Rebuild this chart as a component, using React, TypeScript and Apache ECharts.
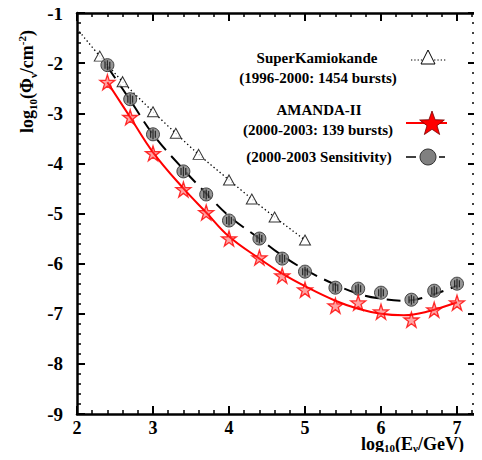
import React, { useEffect, useRef } from "react";
import * as echarts from "echarts";

// SuperKamiokande limits (triangles) and dotted guide line
const skX = [2.3, 2.6, 3.0, 3.3, 3.6, 4.0, 4.3, 4.6, 5.0];
const skY = [-1.86, -2.37, -2.97, -3.4, -3.82, -4.33, -4.71, -5.07, -5.53];
const skLineX = [2.03, 2.3, 2.6, 3.0, 3.3, 3.6, 4.0, 4.3, 4.6, 5.0];
const skLineY = [-1.37, -1.86, -2.37, -2.97, -3.4, -3.82, -4.33, -4.71, -5.07, -5.53];

// AMANDA-II limits (stars) and fit
const amX = [2.4, 2.7, 3.0, 3.4, 3.7, 4.0, 4.4, 4.7, 5.0, 5.4, 5.7, 6.0, 6.4, 6.7, 7.0];
const amY = [-2.38, -3.08, -3.8, -4.52, -4.98, -5.5, -5.88, -6.24, -6.52, -6.84, -6.78, -6.96, -7.12, -6.92, -6.78];
const amFitX = [2.4, 2.7, 3.0, 3.4, 3.7, 4.0, 4.4, 4.7, 5.0, 5.4, 5.7, 6.0, 6.3, 6.6, 7.0];
const amFitY = [-2.38, -3.08, -3.78, -4.5, -4.98, -5.46, -5.9, -6.2, -6.45, -6.74, -6.9, -7.0, -7.03, -6.96, -6.77];

// AMANDA-II sensitivity (circles) and fit
const sensX = [2.4, 2.7, 3.0, 3.4, 3.7, 4.0, 4.4, 4.7, 5.0, 5.4, 5.7, 6.0, 6.4, 6.7, 7.0];
const sensY = [-2.04, -2.72, -3.42, -4.16, -4.62, -5.14, -5.5, -5.9, -6.16, -6.48, -6.5, -6.58, -6.72, -6.54, -6.4];
const sensFitX = [2.4, 2.7, 3.0, 3.4, 3.7, 4.0, 4.4, 4.7, 5.0, 5.4, 5.7, 6.0, 6.3, 6.6, 7.0];
const sensFitY = [-2.07, -2.74, -3.42, -4.12, -4.6, -5.05, -5.5, -5.84, -6.12, -6.42, -6.6, -6.7, -6.74, -6.66, -6.44];

const xTicks = [2, 3, 4, 5, 6, 7];

const FONT = "'Liberation Serif', 'DejaVu Serif', serif";
const zip = (xs: number[], ys: number[]) => xs.map((x, i) => [x, ys[i]]);

const STAR = "path://M50,0 L61.2,34.5 L97.6,34.5 L68.2,55.9 L79.4,90.5 L50,69.1 L20.6,90.5 L31.8,55.9 L2.4,34.5 L38.8,34.5 Z";
const STRIPES = "path://M0,1.5h1.3v7h-1.3z M2.4,0h1.3v10h-1.3z M4.8,1.5h1.3v7h-1.3z";

function starPoints(cx: number, cy: number, R: number, r: number) {
  const pts: number[][] = [];
  for (let i = 0; i < 10; i++) {
    const a = -Math.PI / 2 + (i * Math.PI) / 5;
    const rad = i % 2 === 0 ? R : r;
    pts.push([cx + rad * Math.cos(a), cy + rad * Math.sin(a)]);
  }
  return pts;
}

const mkRich = (size: number, lh: number) => ({
  m: { fontSize: size, fontWeight: "bold", fontFamily: FONT, color: "#000", lineHeight: lh, verticalAlign: "middle" },
  s: { fontSize: Math.round(size * 0.63), fontWeight: "bold", fontFamily: FONT, color: "#000", lineHeight: lh, verticalAlign: "bottom" },
  u: { fontSize: Math.round(size * 0.63), fontWeight: "bold", fontFamily: FONT, color: "#000", lineHeight: lh, verticalAlign: "top" },
});

export default function App() {
  const ref = useRef<HTMLDivElement>(null);
  useEffect(() => {
    if (!ref.current) return;
    const chart = echarts.init(ref.current, undefined, { renderer: "svg" });

    const frame = { show: true, onZero: false, lineStyle: { color: "#000", width: 2.5 } };
    const noLine = { show: false, onZero: false };
    const labelStyle = { fontFamily: FONT, fontWeight: "bold" as const, fontSize: 19, color: "#000" };
    const intLabel = (v: number) => {
      const r = Math.round(v);
      return Math.abs(v - r) < 1e-6 && xTicks.indexOf(r) >= 0 ? String(r) : "";
    };

    const xBase = { type: "value" as const, min: 2, max: 7.25, splitLine: { show: false } };
    const yBase = { type: "value" as const, min: -9, max: -1, interval: 1, splitLine: { show: false } };

    const option: any = {
      animation: false,
      backgroundColor: "#fff",
      grid: { left: 77, right: 6, top: 13, bottom: 46, containLabel: false },
      xAxis: [
        { ...xBase, position: "bottom", interval: 0.2, axisLine: frame,
          axisTick: { inside: true, length: 4, lineStyle: { color: "#000", width: 1.5 } },
          axisLabel: { ...labelStyle, fontSize: 18, margin: 5, formatter: intLabel } },
        { ...xBase, position: "bottom", interval: 1, axisLine: noLine,
          axisTick: { inside: true, length: 8, lineStyle: { color: "#000", width: 2 } },
          axisLabel: { show: false } },
        { ...xBase, position: "top", interval: 0.2, axisLine: frame,
          axisTick: { inside: true, length: 4, lineStyle: { color: "#000", width: 1.5 } },
          axisLabel: { show: false } },
        { ...xBase, position: "top", interval: 1, axisLine: noLine,
          axisTick: { inside: true, length: 8, lineStyle: { color: "#000", width: 2 } },
          axisLabel: { show: false } },
      ],
      yAxis: [
        { ...yBase, position: "left", axisLine: frame,
          axisTick: { inside: true, length: 8, lineStyle: { color: "#000", width: 2 } },
          minorTick: { show: true, splitNumber: 5, length: 4, lineStyle: { color: "#000", width: 1.5 } },
          axisLabel: { ...labelStyle, margin: 14 } },
        { ...yBase, position: "right", axisLine: frame,
          axisTick: { inside: true, length: 8, lineStyle: { color: "#000", width: 2 } },
          minorTick: { show: true, splitNumber: 5, length: 4, lineStyle: { color: "#000", width: 1.5 } },
          axisLabel: { show: false } },
      ],
      series: [
        { type: "line", name: "SK line", data: zip(skLineX, skLineY), smooth: 0.3, symbol: "none",
          lineStyle: { color: "#000", width: 1.3, type: [1.3, 2.6] }, z: 2 },
        { type: "line", name: "Sensitivity fit", data: zip(sensFitX, sensFitY), smooth: 0.4, symbol: "none",
          lineStyle: { color: "#000", width: 2, type: [14, 8] }, z: 2 },
        { type: "line", name: "AMANDA fit", data: zip(amFitX, amFitY), smooth: 0.4, symbol: "none",
          lineStyle: { color: "#ff0000", width: 2 }, z: 2 },
        { type: "scatter", name: "SuperKamiokande", data: zip(skX, skY), symbol: "triangle", symbolSize: [11, 10],
          itemStyle: { color: "#fff", borderColor: "#000", borderWidth: 1 }, z: 4 },
        { type: "scatter", name: "Sensitivity", data: zip(sensX, sensY), symbol: "circle", symbolSize: 13,
          itemStyle: { color: "#7c7c7c", borderColor: "#222", borderWidth: 1 }, z: 4 },
        { type: "scatter", name: "Sensitivity stripes", data: zip(sensX, sensY), symbol: STRIPES, symbolSize: [6, 10],
          itemStyle: { color: "#111" }, silent: true, z: 5 },
        { type: "scatter", name: "AMANDA-II", data: zip(amX, amY), symbol: STAR, symbolSize: 15,
          itemStyle: { color: "rgba(255,60,60,0.6)", borderColor: "#ff0000", borderWidth: 1.3 }, z: 4 },
      ],
      graphic: [
        // y-axis title (reads bottom to top)
        { type: "text", x: 27, y: 133, rotation: Math.PI / 2,
          style: { text: "{m|log}{s|10}{m|(Φ}{s|ν}{m|/cm}{u|-2}{m|)}", rich: mkRich(18, 22), align: "left", verticalAlign: "middle" } },
        // x-axis title
        { type: "text", x: 361, y: 444,
          style: { text: "{m|log}{s|10}{m|(E}{s|ν}{m|/GeV)}", rich: mkRich(18, 18), align: "left", verticalAlign: "middle" } },
        // legend texts
        { type: "text", x: 317, y: 58, style: { text: "SuperKamiokande", font: `bold 15px ${FONT}`, fill: "#000", align: "center", verticalAlign: "middle" } },
        { type: "text", x: 318, y: 78, style: { text: "(1996-2000: 1454 bursts)", font: `bold 15px ${FONT}`, fill: "#000", align: "center", verticalAlign: "middle" } },
        { type: "text", x: 319, y: 110, style: { text: "AMANDA-II", font: `bold 15px ${FONT}`, fill: "#000", align: "center", verticalAlign: "middle" } },
        { type: "text", x: 318, y: 130, style: { text: "(2000-2003: 139 bursts)", font: `bold 15px ${FONT}`, fill: "#000", align: "center", verticalAlign: "middle" } },
        { type: "text", x: 319, y: 157, style: { text: "(2000-2003 Sensitivity)", font: `bold 15px ${FONT}`, fill: "#000", align: "center", verticalAlign: "middle" } },
        // legend symbols
        { type: "line", shape: { x1: 411, y1: 60, x2: 447, y2: 60 }, style: { stroke: "#000", lineWidth: 1.2, lineDash: [1.3, 2] } },
        { type: "polygon", shape: { points: [[428, 50], [435, 64], [421, 64]] }, style: { fill: "#fff", stroke: "#000", lineWidth: 1 } },
        { type: "line", shape: { x1: 406, y1: 123, x2: 447, y2: 123 }, style: { stroke: "#ff0000", lineWidth: 2 } },
        { type: "polygon", shape: { points: starPoints(432, 124, 13, 5.3) }, style: { fill: "#ff0000", stroke: "#700", lineWidth: 0.8 } },
        { type: "line", shape: { x1: 406, y1: 157, x2: 416, y2: 157 }, style: { stroke: "#000", lineWidth: 1.5 } },
        { type: "line", shape: { x1: 439, y1: 157, x2: 445, y2: 157 }, style: { stroke: "#000", lineWidth: 1.5 } },
        { type: "circle", shape: { cx: 428, cy: 157, r: 8 }, style: { fill: "#808080", stroke: "#333", lineWidth: 1 } },
      ],
    };
    chart.setOption(option);
    return () => chart.dispose();
  }, []);
  return <div ref={ref} style={{ width: 482, height: 460, margin: -8 }} />;
}
